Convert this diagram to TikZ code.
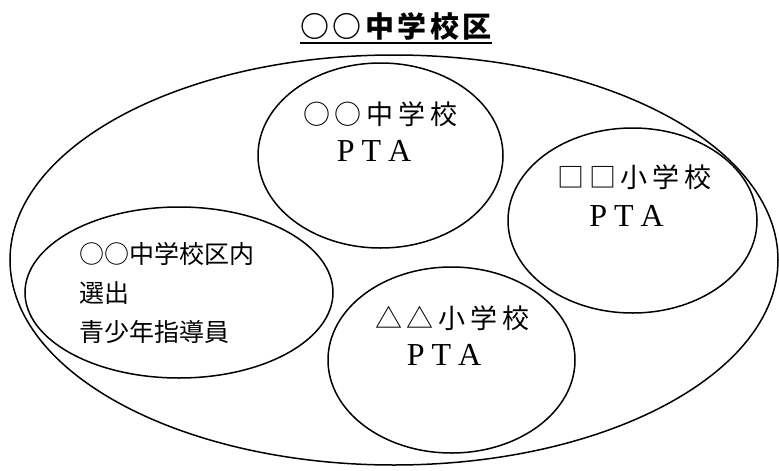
\documentclass[tikz,border=0pt]{standalone}
\usepackage{fontspec}
\newfontfamily\jp{Noto Sans CJK JP}
\newfontfamily\lat{Liberation Serif}
\usetikzlibrary{shapes.geometric}
\newcommand{\gapk}{\kern5pt}
\newcommand{\tgap}{\kern3.5pt}
\tikzset{
  ring/.style={draw, ellipse, line width=1.5pt, inner sep=0pt},
  lbl/.style={inner sep=0pt, font=\jp\fontsize{25}{30}\selectfont},
  clbl/.style={inner sep=0pt, font=\jp\fontsize{27}{30}\selectfont},
  pta/.style={inner sep=0pt, font=\lat\fontsize{32}{36}\selectfont}
}
\begin{document}
\begin{tikzpicture}[x=1pt,y=-1pt]
\useasboundingbox (0,0) rectangle (779,471);
% outer
\node[ring, minimum width=768pt, minimum height=410pt] (outer) at (394,260) {};
% inner circles
\node[ring, minimum width=245pt, minimum height=185pt] (top) at (380.5,155.5) {};
\node[ring, minimum width=249pt, minimum height=185pt] (right) at (632.5,220.5) {};
\node[ring, minimum width=308pt, minimum height=171pt] (left) at (179,292.5) {};
\node[ring, minimum width=247pt, minimum height=186pt] (bottom) at (451.5,360) {};
% title
\node[inner sep=0pt, font=\jp\bfseries\fontsize{29}{34}\selectfont] (title) at (396,26) {○\tgap{}○\tgap{}中\tgap{}学\tgap{}校\tgap{}区};
\draw[line width=1.4pt] ([yshift=-3pt]title.south west) -- ([yshift=-3pt]title.south east);
% texts
\node[clbl] (t1) at (380.5,114) {○\gapk{}○\gapk{}中\gapk{}学\gapk{}校};
\node[pta] (p1) at (374,151) {P\kern7pt T\kern7pt A};
\node[clbl] (t2) at (634.5,177) {□\gapk{}□\gapk{}小\gapk{}学\gapk{}校};
\node[pta] (p2) at (626.5,216) {P\kern7pt T\kern7pt A};
\node[clbl] (t3) at (452.5,318) {△\gapk{}△\gapk{}小\gapk{}学\gapk{}校};
\node[pta] (p3) at (444,355) {P\kern7pt T\kern7pt A};
\node[lbl, anchor=west] (l1) at (79,254) {○○中学校区内};
\node[lbl, anchor=west] (l2) at (79,293) {選出};
\node[lbl, anchor=west] (l3) at (79,332) {青少年指導員};
\end{tikzpicture}
\end{document}
